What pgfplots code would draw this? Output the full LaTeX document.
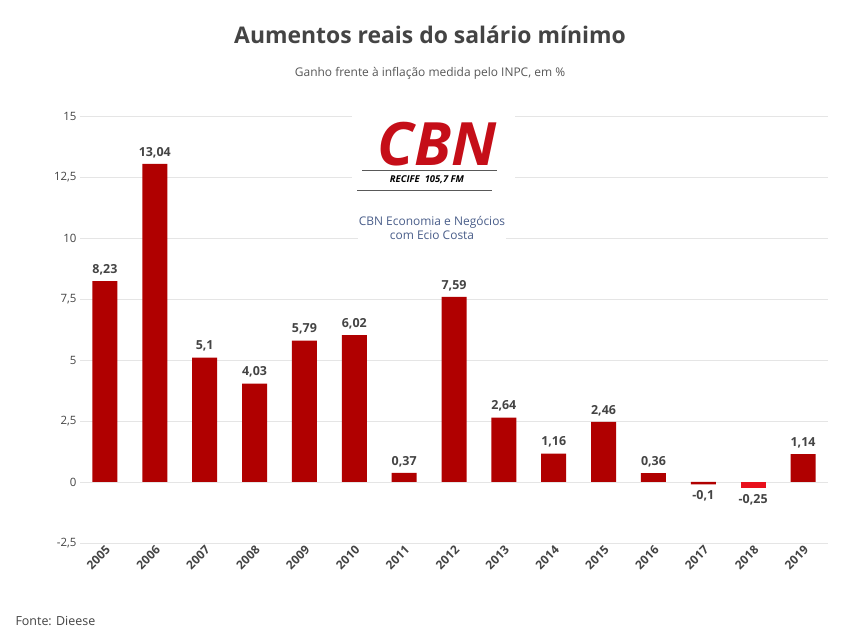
\documentclass[border=0pt]{standalone}
\usepackage{pgfplots}
\pgfplotsset{compat=1.18}
\usepackage{fontspec}
\setmainfont{Open Sans}
\definecolor{bar}{HTML}{B00000}
\definecolor{bar2}{HTML}{E8101C}
\definecolor{txt}{HTML}{444444}
\definecolor{navy}{HTML}{4A5E8A}
\begin{document}
\begin{tikzpicture}
\path[fill=white] (0bp,0bp) rectangle (850bp,641bp);
\begin{axis}[at={(80bp,98bp)},anchor=south west,scale only axis,width=748bp,height=427bp,
 xmin=-0.5,xmax=14.5,ymin=-2.5,ymax=15,
 xtick={0,...,14},xticklabels={2005,2006,2007,2008,2009,2010,2011,2012,2013,2014,2015,2016,2017,2018,2019},
 xticklabel style={rotate=45,anchor=north east,font=\bfseries\fontsize{12}{13}\selectfont,text=txt,inner sep=1pt},
 ytick={-2.5,0,2.5,5,7.5,10,12.5,15},
 yticklabels={-2{,}5,0,2{,}5,5,7{,}5,10,12{,}5,15},
 yticklabel style={font=\fontsize{11.5}{12}\selectfont,text=txt},
 ymajorgrids,grid style={gray!20},axis line style={draw=none},major tick length=0pt,
 ybar,bar width=25bp,
 /pgf/number format/assume math mode=true,
 nodes near coords style={font=\bfseries\fontsize{12.5}{14}\selectfont,text=txt,inner sep=6pt},
]
\addplot[fill=bar,draw=none,bar shift=0pt,nodes near coords={\pgfmathprintnumber[use comma,fixed,assume math mode=true]{\pgfplotspointmeta}},
 nodes near coords align={vertical},point meta=explicit]
 coordinates {(0,8.23)[8.23] (1,13.04)[13.04] (2,5.1)[5.1] (3,4.03)[4.03] (4,5.79)[5.79] (5,6.02)[6.02] (6,0.37)[0.37] (7,7.59)[7.59] (8,2.64)[2.64] (9,1.16)[1.16] (10,2.46)[2.46] (11,0.36)[0.36] (12,-0.1)[-0.1] (14,1.14)[1.14]};
\addplot[fill=bar2,draw=none,bar shift=0pt,nodes near coords={\pgfmathprintnumber[use comma,fixed,assume math mode=true]{\pgfplotspointmeta}},
 nodes near coords align={vertical},point meta=explicit]
 coordinates {(13,-0.25)[-0.25]};
\end{axis}
\node[font=\bfseries\fontsize{23}{26}\selectfont,text=txt] at (430bp,606bp) {Aumentos reais do salário mínimo};
\node[font=\fontsize{12}{14}\selectfont,text=txt!90] at (430bp,568bp) {Ganho frente à inflação medida pelo INPC, em \%};
\node[anchor=west,font=\fontsize{12.5}{14}\selectfont,text=txt] at (12bp,20bp) {Fonte: Dieese};
\fill[white] (352bp,445bp) rectangle (515bp,528bp);
\node[font=\fontsize{60}{60}\bfseries\itshape,text=bar2!85!black] at (437bp,497bp) {CBN};
\draw[gray!70!black,line width=0.8] (362bp,471bp)--(497bp,471bp);
\draw[gray!70!black,line width=0.8] (357bp,451bp)--(492bp,451bp);
\node[font=\bfseries\itshape\fontsize{9.5}{10}\selectfont] at (427bp,461.5bp) {RECIFE\ \ 105,7 FM};
\node[font=\fontsize{12}{14}\selectfont,text=navy,align=center,inner sep=1pt,fill=white] at (432bp,413bp) {CBN Economia e Negócios\\com Ecio Costa};
\end{tikzpicture}
\end{document}
